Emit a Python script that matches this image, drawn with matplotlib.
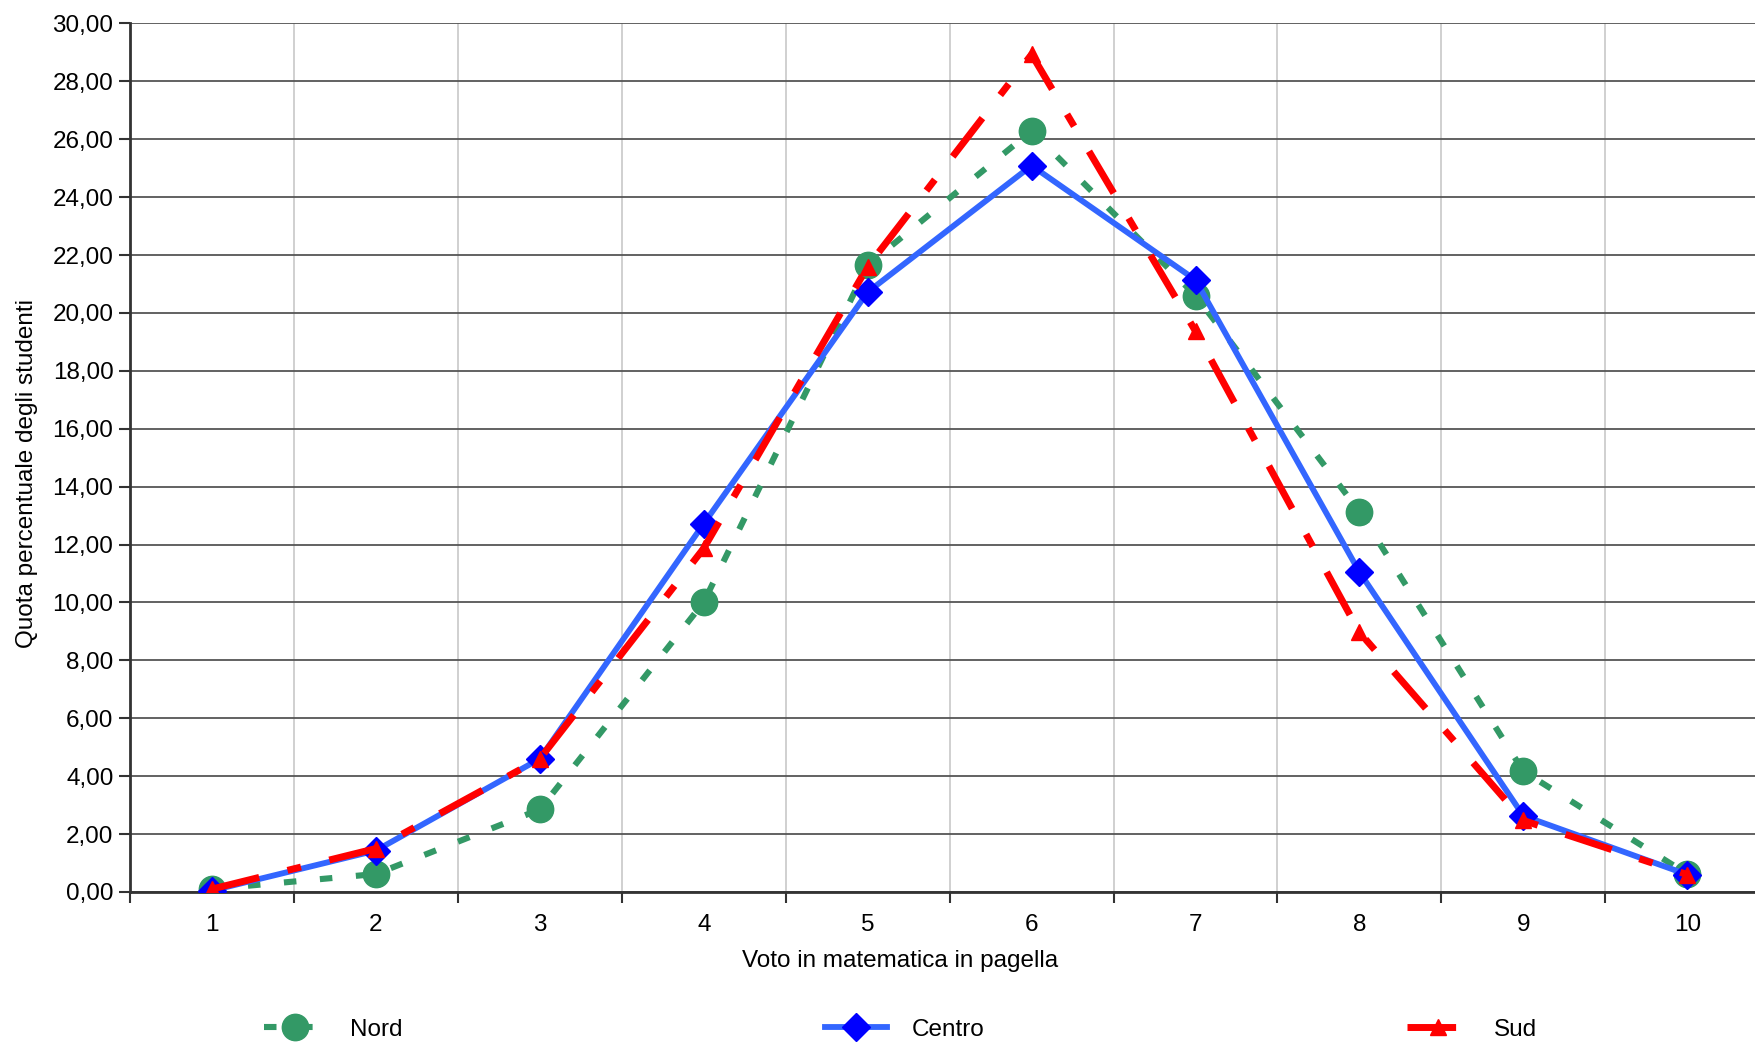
import matplotlib
matplotlib.use("Agg")
import matplotlib.pyplot as plt
from matplotlib.ticker import FuncFormatter

plt.rcParams["font.family"] = ["Liberation Sans", "DejaVu Sans"]
plt.rcParams["lines.scale_dashes"] = False

voti = [1, 2, 3, 4, 5, 6, 7, 8, 9, 10]
nord = [0.10, 0.62, 2.85, 10.01, 21.65, 26.29, 20.60, 13.14, 4.17, 0.62]
centro = [0.05, 1.43, 4.60, 12.72, 20.72, 25.09, 21.14, 11.05, 2.63, 0.60]
sud = [0.10, 1.50, 4.60, 11.87, 21.60, 28.93, 19.37, 8.97, 2.47, 0.60]

fig = plt.figure(figsize=(17.55, 10.42), dpi=100)
ax = fig.add_axes([0.0741, 0.144, 0.934, 0.8335])

ax.plot(voti, nord, color="#339966", lw=4.4, dashes=(9, 17),
        dash_capstyle="butt", marker="o", ms=19, mec="#339966", label="Nord", zorder=3)
ax.plot(voti, centro, color="#3366FF", lw=4.2, marker="D", ms=14,
        mfc="#0000FF", mec="#0000FF", label="Centro", zorder=4)
ax.plot(voti, sud, color="#FF0000", lw=5, dashes=(35, 21, 10, 21),
        dash_capstyle="butt", marker="^", ms=12, mec="#FF0000", label="Sud", zorder=5)

ax.set_xlim(0.5, 10.5)
ax.set_ylim(0, 30)
ax.set_yticks(range(0, 31, 2))
ax.yaxis.set_major_formatter(FuncFormatter(lambda v, p: f"{v:.2f}".replace(".", ",")))
ax.set_xticks(voti)
ax.set_xticks([v + 0.5 for v in range(0, 11)], minor=True)
ax.tick_params(axis="x", which="major", length=0, pad=16, labelsize=17.5)
ax.tick_params(axis="x", which="minor", length=8, width=1.5, color="#333333")
ax.tick_params(axis="y", length=8, width=1.5, color="#333333", labelsize=17.5, pad=4)

ax.grid(axis="y", which="major", color="#555555", lw=1.3, zorder=0)
ax.grid(axis="x", which="minor", color="#c8c8c8", lw=1.2, zorder=0)
ax.set_axisbelow(True)

for s in ["top", "right"]:
    ax.spines[s].set_visible(False)
for s in ["left", "bottom"]:
    ax.spines[s].set_color("#333333")
    ax.spines[s].set_linewidth(2)

ax.set_xlabel("Voto in matematica in pagella", fontsize=17.5, labelpad=10)
ax.set_ylabel("Quota percentuale degli studenti", fontsize=17.5, labelpad=10)
ax.xaxis.label.set_x(0.47)
ax.yaxis.label.set_y(0.482)

fig.legend(loc="center", bbox_to_anchor=(0.513, 0.012), ncol=3, frameon=False,
           fontsize=17.5, handlelength=2.55, handletextpad=1.0, columnspacing=17.4)

fig.savefig("out.png", dpi=100)
